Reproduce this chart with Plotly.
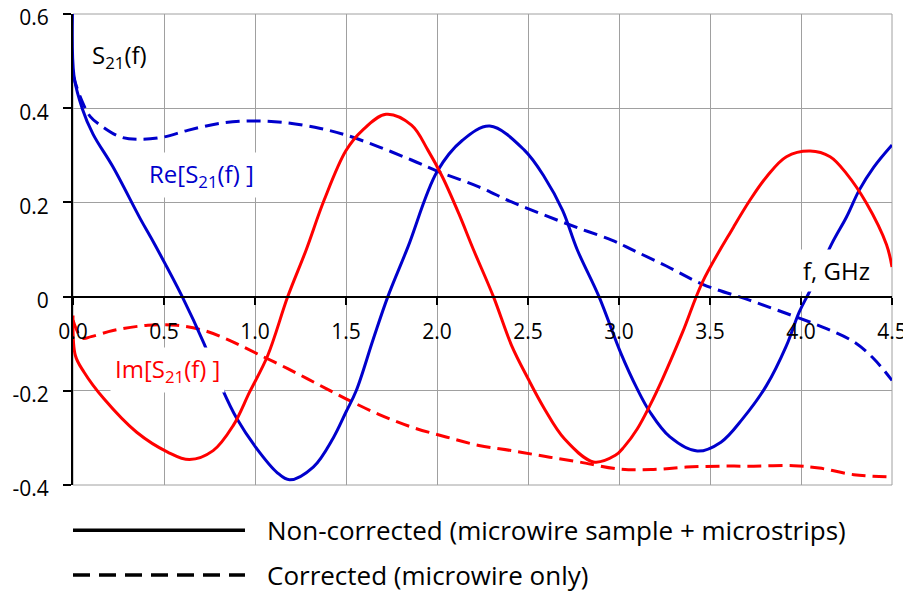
import plotly.graph_objects as go

# Re[S21(f)], non-corrected (solid blue)
f_re_nc = [0, 0.005, 0.05, 0.11, 0.22, 0.37, 0.45, 0.6, 0.72, 0.82, 0.9, 1.01, 1.12, 1.19, 1.32, 1.43,
           1.5, 1.556, 1.65, 1.73, 1.84, 2.0, 2.14, 2.29, 2.48, 2.59, 2.69, 2.77, 2.89, 3.01, 3.1, 3.17,
           3.28, 3.43, 3.56, 3.68, 3.81, 3.92, 3.99, 4.05, 4.17, 4.25, 4.32, 4.4, 4.5]
re_nc = [0.65, 0.47, 0.40, 0.345, 0.275, 0.165, 0.11, 0.0, -0.10, -0.196, -0.259, -0.323, -0.373, -0.389,
         -0.362, -0.30, -0.245, -0.2, -0.09, 0.0, 0.105, 0.265, 0.332, 0.362, 0.311, 0.254, 0.183, 0.10,
         0.0, -0.12, -0.196, -0.245, -0.298, -0.328, -0.309, -0.259, -0.189, -0.104, -0.033, 0.013,
         0.113, 0.169, 0.226, 0.275, 0.322]

# Im[S21(f)], non-corrected (solid red)
f_im_nc = [0, 0.013, 0.06, 0.17, 0.35, 0.52, 0.64, 0.77, 0.88, 0.97, 1.07, 1.18, 1.28, 1.38, 1.5, 1.59,
           1.72, 1.86, 1.95, 2.03, 2.12, 2.2, 2.31, 2.41, 2.5, 2.59, 2.7, 2.86, 2.98, 3.03, 3.1, 3.17,
           3.24, 3.35, 3.46, 3.63, 3.72, 3.81, 3.92, 4.05, 4.16, 4.25, 4.36, 4.47, 4.5]
im_nc = [-0.04, -0.125, -0.16, -0.217, -0.288, -0.33, -0.346, -0.327, -0.274, -0.203, -0.125, 0.0, 0.098,
         0.205, 0.31, 0.353, 0.387, 0.364, 0.311, 0.254, 0.176, 0.10, 0.0, -0.104, -0.174, -0.238, -0.302,
         -0.351, -0.337, -0.318, -0.281, -0.231, -0.174, -0.075, 0.032, 0.148, 0.205, 0.254, 0.297, 0.309,
         0.297, 0.261, 0.198, 0.11, 0.063]

# Re[S21(f)], corrected (dashed blue)
f_re_c = [0, 0.04, 0.095, 0.15, 0.26, 0.37, 0.5, 0.63, 0.81, 0.99, 1.18, 1.36, 1.5, 1.68, 1.86, 2.01,
          2.23, 2.41, 2.59, 2.78, 2.96, 3.08, 3.26, 3.46, 3.72, 3.95, 4.14, 4.29, 4.4, 4.5]
re_c = [0.47, 0.424, 0.382, 0.364, 0.339, 0.334, 0.339, 0.353, 0.368, 0.373, 0.369, 0.357, 0.343, 0.318,
        0.29, 0.265, 0.233, 0.201, 0.173, 0.145, 0.12, 0.098, 0.065, 0.026, -0.008, -0.04, -0.068,
        -0.096, -0.132, -0.178]

# Im[S21(f)], corrected (dashed red)
f_im_c = [0, 0.05, 0.1, 0.22, 0.41, 0.57, 0.72, 0.86, 1.01, 1.18, 1.34, 1.5, 1.68, 1.86, 2.05, 2.23,
          2.41, 2.59, 2.78, 3.0, 3.19, 3.37, 3.56, 3.74, 3.96, 4.1, 4.29, 4.5]
im_c = [-0.05, -0.088, -0.085, -0.072, -0.061, -0.061, -0.072, -0.093, -0.121, -0.153, -0.185, -0.217,
        -0.25, -0.277, -0.298, -0.316, -0.327, -0.339, -0.351, -0.366, -0.367, -0.362, -0.36, -0.36,
        -0.359, -0.364, -0.378, -0.383]

y_ticks = [-0.4, -0.2, 0, 0.2, 0.4, 0.6]
y_ticktext = ['-0.4', '-0.2', '0', '0.2', '0.4', '0.6']
x_ticks = [0, 0.5, 1.0, 1.5, 2.0, 2.5, 3.0, 3.5, 4.0, 4.5]

BLUE = '#0000CC'
RED = '#FF0000'
GRID = '#A0A0A0'
FONT = 'Open Sans'

fig = go.Figure()

series = [
    (f_re_c, re_c, BLUE, '14px,7px'),
    (f_im_c, im_c, RED, '14px,7px'),
    (f_re_nc, re_nc, BLUE, 'solid'),
    (f_im_nc, im_nc, RED, 'solid'),
]
for fx, fy, col, dash in series:
    fig.add_trace(go.Scatter(
        x=fx, y=fy, mode='lines',
        line=dict(color=col, width=3, dash=dash, shape='spline', smoothing=1.0),
        showlegend=False, hoverinfo='skip'
    ))

# plotly drops the gridlines at the range ends, so frame the plot area
fig.add_shape(type='rect', xref='paper', yref='paper', x0=0, x1=1, y0=0, y1=1,
              line=dict(color=GRID, width=1), layer='below')

# in-plot labels
labels = [
    (0.077, 0.51, 'S<sub>21</sub>(f)', 'black'),
    (0.392, 0.258, 'Re[S<sub>21</sub>(f) ]', BLUE),
    (0.205, -0.156, 'Im[S<sub>21</sub>(f) ]', RED),
    (3.983, 0.056, 'f, GHz', 'black'),
]
for lx, ly, txt, col in labels:
    fig.add_annotation(
        x=lx, y=ly, xref='x', yref='y', text=txt, showarrow=False,
        xanchor='left', yanchor='middle', bgcolor='white', borderpad=4,
        font=dict(family=FONT, size=24, color=col)
    )

# legend drawn below the plot
legend_rows = [
    (-0.096, 'solid', 'Non-corrected (microwire sample + microstrips)'),
    (-0.191, '17px,9px', 'Corrected (microwire only)'),
]
for ly, dash, txt in legend_rows:
    fig.add_shape(
        type='line', xref='paper', yref='paper', x0=0.0, x1=0.21, y0=ly, y1=ly,
        line=dict(color='black', width=3.5, dash=dash)
    )
    fig.add_annotation(
        x=0.234, y=ly, xref='paper', yref='paper', text=txt, showarrow=False,
        xanchor='left', yanchor='middle',
        font=dict(family=FONT, size=26, color='black')
    )

# page body has an 8px default margin, so the figure is drawn 8px smaller
fig.update_layout(
    width=903,
    height=587,
    plot_bgcolor='white',
    paper_bgcolor='white',
    showlegend=False,
    margin=dict(l=65, r=19, t=6, b=110),
    xaxis=dict(
        range=[0, 4.5],
        tickvals=x_ticks,
        tickformat='.1f',
        anchor='free',
        position=0.4,
        automargin=False,
        showline=True,
        linecolor='black',
        linewidth=2,
        ticks='outside',
        ticklen=7,
        tickwidth=2,
        tickcolor='black',
        showgrid=True,
        gridcolor=GRID,
        gridwidth=1,
        zeroline=False,
        tickfont=dict(family=FONT, size=21, color='black'),
        ticklabelstandoff=9,
        ticklabeloverflow='allow',
    ),
    yaxis=dict(
        range=[-0.4, 0.6],
        tickvals=y_ticks,
        ticktext=y_ticktext,
        automargin=False,
        showline=True,
        linecolor='black',
        linewidth=2,
        ticks='outside',
        ticklen=8,
        tickwidth=2,
        tickcolor='black',
        showgrid=True,
        gridcolor=GRID,
        gridwidth=1,
        zeroline=False,
        tickfont=dict(family=FONT, size=21, color='black'),
        ticklabelstandoff=10,
        ticklabelshift=4,
        ticklabeloverflow='allow',
    ),
)

fig.write_html("out.html")
